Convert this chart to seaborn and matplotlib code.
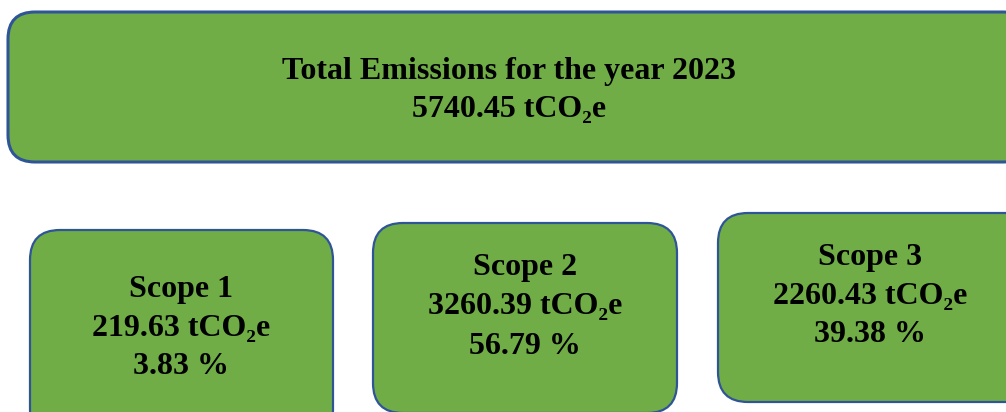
import matplotlib
matplotlib.use("Agg")
import matplotlib.pyplot as plt
from matplotlib.patches import FancyBboxPatch
import seaborn as sns

# ---- data ----
title_text = "Total Emissions for the year 2023"
total_value = 5740.45
unit = "tCO\u2082e"
scope_names = ["Scope 1", "Scope 2", "Scope 3"]
scope_values = [219.63, 3260.39, 2260.43]
scope_shares = [3.83, 56.79, 39.38]

sns.set_theme(style="white")
plt.rcParams["font.family"] = ["Liberation Serif", "DejaVu Serif"]

FILL = "#70AD47"
EDGE = "#2F5597"

fig = plt.figure(figsize=(10.06, 4.12), dpi=100)
ax = fig.add_axes([0, 0, 1, 1])
ax.set_xlim(0, 1006)
ax.set_ylim(412, 0)
ax.axis("off")

def box(x0, y0, x1, y1, r, lw):
    p = FancyBboxPatch((x0, y0), x1 - x0, y1 - y0,
                       boxstyle=f"round,pad=0,rounding_size={r}",
                       facecolor=FILL, edgecolor=EDGE, linewidth=lw,
                       mutation_aspect=1)
    ax.add_patch(p)

def lines(cx, ys, texts, fs=23):
    for y, t in zip(ys, texts):
        ax.text(cx, y + 3, t, ha="center", va="center", fontsize=fs,
                fontweight="bold", color="black")

# top box
box(8, 12, 1030, 162, 27, 2.2)
lines(509, [68, 106], [title_text, f"{total_value:.2f} {unit}"])

# scope boxes
geo = [(30, 230, 333, 440, 181, [287, 326, 363]),
       (373, 223, 677, 413, 525, [265, 304, 343]),
       (718, 213, 1040, 402, 870, [255, 294, 332])]
for (x0, y0, x1, y1, cx, ys), n, v, s in zip(geo, scope_names, scope_values, scope_shares):
    box(x0, y0, x1, y1, 30, 1.6)
    lines(cx, ys, [n, f"{v:.2f} {unit}", f"{s:.2f} %"])

fig.savefig("out.png", dpi=100)
